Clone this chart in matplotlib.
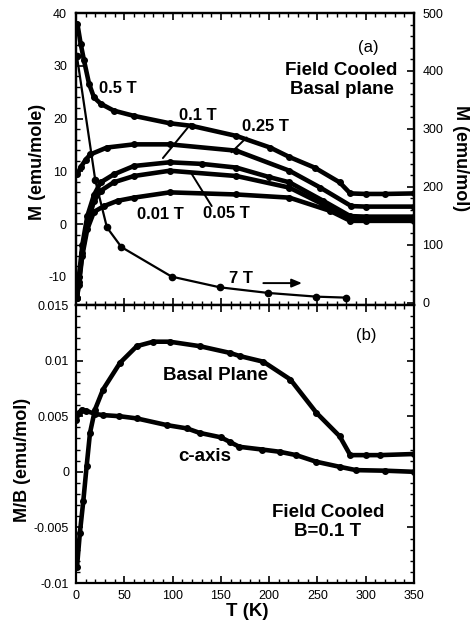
import matplotlib
matplotlib.use("Agg")
import matplotlib.pyplot as plt
from matplotlib.ticker import MultipleLocator, FuncFormatter

plt.rcParams['font.family'] = ['Liberation Sans', 'DejaVu Sans']
plt.rcParams['axes.unicode_minus'] = False

# ---------------- data: panel (a), M in emu/mole (left axis) ----------------
T_05 = [1.4, 4.8, 8.3, 13.5, 18.6, 25.6, 39, 60, 97, 120, 166, 201, 221, 247, 273, 284, 300, 320, 350]
M_05 = [38, 34.2, 31, 26.6, 24, 22.8, 21.5, 20.5, 19.1, 18.6, 16.7, 14.5, 12.7, 10.7, 7.9, 5.8, 5.7, 5.7, 5.8]

T_025 = [1.4, 5, 10, 15, 32, 60, 97, 166, 221, 253, 285, 300, 350]
M_025 = [9.4, 10.8, 12.2, 13.2, 14.5, 15.1, 15.1, 13.9, 10.1, 6.9, 3.4, 3.3, 3.3]

T_01 = [1, 3, 6.5, 11.7, 18.6, 25.6, 39, 60, 97, 130, 166, 200, 221, 256, 284, 300, 350]
M_01 = [-14, -10, -4, 1.5, 5.5, 7.9, 9.4, 11.0, 11.7, 11.4, 10.7, 8.9, 7.9, 4.4, 1.5, 1.4, 1.4]

T_005 = [1, 3, 6.5, 11.7, 18.6, 25.6, 39, 60, 97, 166, 221, 256, 284, 300, 350]
M_005 = [-14, -11, -5.5, 0, 4.3, 6.3, 7.9, 9.1, 10.1, 9.1, 6.9, 3.7, 0.9, 0.9, 0.9]

T_001 = [1, 3, 6.5, 11.7, 18.6, 29, 43, 60, 97, 166, 221, 263, 284, 300, 350]
M_001 = [-14, -11.5, -6, -1, 2.3, 3.4, 4.4, 5.0, 6.0, 5.6, 5.0, 2.5, 0.6, 0.6, 0.6]

# 7 T, right axis (emu/mol)
T_7 = [1, 20, 32, 47, 99, 149, 199, 249, 280]
M_7 = [425, 211, 130, 96, 45, 26.5, 16.8, 10.4, 8.7]

# ---------------- data: panel (b), M/B ----------------
T_basal = [1, 4, 7.6, 11, 14.5, 19.7, 28, 45.6, 63, 80, 97, 128, 159, 170, 194, 222, 249, 273, 284, 300, 315, 350]
MB_basal = [-0.0086, -0.0055, -0.0026, 0.0005, 0.0035, 0.0056, 0.0074, 0.0098, 0.0113, 0.0117, 0.0117,
            0.0113, 0.0107, 0.0104, 0.0099, 0.0083, 0.0053, 0.0032, 0.0015, 0.0015, 0.0015, 0.0016]

T_c = [0.5, 3, 6, 10, 20, 28, 45, 63, 94, 115, 128, 150, 159, 169, 193, 211, 228, 249, 273, 290, 320, 350]
MB_c = [0.0047, 0.0053, 0.0056, 0.0055, 0.0052, 0.0051, 0.0050, 0.0048, 0.0042, 0.0039, 0.0035, 0.0031,
        0.0027, 0.00225, 0.0020, 0.0018, 0.0015, 0.0009, 0.00045, 0.00015, 0.0001, 0.0]

# tick labels
left_a_ticks = [-10, 0, 10, 20, 30, 40]
right_a_ticks = [0, 100, 200, 300, 400, 500]
left_b_ticks = [-0.01, -0.005, 0, 0.005, 0.01, 0.015]
x_ticks = [0, 50, 100, 150, 200, 250, 300, 350]

W, H = 471, 626
fig = plt.figure(figsize=(W / 100, H / 100), dpi=100)
L, R = 76, 414
ax1 = fig.add_axes([L / W, 1 - 305 / H, (R - L) / W, (305 - 13) / H])
ax2 = fig.add_axes([L / W, 1 - 583 / H, (R - L) / W, (583 - 305) / H])
ax1r = ax1.twinx()

lw_c = 3.3
ms_c = 4
for T, M in [(T_05, M_05), (T_025, M_025), (T_01, M_01), (T_005, M_005), (T_001, M_001)]:
    ax1.plot(T, M, color='black', lw=lw_c, marker='o', ms=ms_c, solid_joinstyle='round', solid_capstyle='round')
ax1r.plot(T_7, M_7, color='black', lw=1.6, marker='o', ms=4.5)

ax2.plot(T_basal, MB_basal, color='black', lw=lw_c, marker='o', ms=ms_c, solid_joinstyle='round')
ax2.plot(T_c, MB_c, color='black', lw=lw_c, marker='o', ms=ms_c, solid_joinstyle='round')

ax1.set_xlim(0, 350)
ax2.set_xlim(0, 350)
ax1.set_ylim(-15.35, 40)
ax1r.set_ylim(-4, 500)
ax2.set_ylim(-0.01, 0.015)

tick_kw = dict(direction='in', width=1.2, labelsize=9, colors='black')
for ax in (ax1, ax2, ax1r):
    for s in ax.spines.values():
        s.set_linewidth(1.6)

ax1.set_yticks(left_a_ticks)
ax1.yaxis.set_minor_locator(MultipleLocator(2))
ax1.set_xticks(x_ticks)
ax1.xaxis.set_minor_locator(MultipleLocator(10))
ax1.tick_params(which='major', length=5, top=True, bottom=True, left=True, right=False,
                labelbottom=False, pad=6.5, **tick_kw)
ax1.tick_params(which='minor', length=2.8, top=True, bottom=True, left=True, right=False,
                direction='in', width=1.0)

ax1r.set_yticks(right_a_ticks)
ax1r.yaxis.set_minor_locator(MultipleLocator(20))
ax1r.tick_params(which='major', length=5, right=True, left=False, pad=6, **tick_kw)
ax1r.tick_params(which='minor', length=2.8, right=True, left=False, direction='in', width=1.0)

ax2.set_yticks(left_b_ticks)
ax2.yaxis.set_minor_locator(MultipleLocator(0.001))
ax2.yaxis.set_major_formatter(FuncFormatter(lambda v, p: '%g' % round(v, 4)))
ax2.set_xticks(x_ticks)
ax2.xaxis.set_minor_locator(MultipleLocator(10))
ax2.tick_params(which='major', length=5, top=True, bottom=True, left=True, right=True,
                pad=5, **tick_kw)
ax2.tick_params(which='minor', length=2.8, top=True, bottom=True, left=True, right=True,
                direction='in', width=1.0)

# axis labels
fig.text(37 / W, 1 - 162 / H, 'M (emu/mole)', rotation=90, ha='center', va='center',
         fontsize=13, fontweight='bold')
fig.text(461 / W, 1 - 158 / H, 'M (emu/mol)', rotation=270, ha='center', va='center',
         fontsize=13, fontweight='bold')
fig.text(23 / W, 1 - 460 / H, 'M/B (emu/mol)', rotation=90, ha='center', va='center',
         fontsize=13, fontweight='bold')
fig.text(247 / W, 1 - 612 / H, 'T (K)', ha='center', va='center', fontsize=13.5, fontweight='bold')

# panel (a) annotations
lab = dict(fontsize=12, fontweight='bold', ha='center', va='center')
ax1.text(43.5, 25.7, '0.5 T', **lab)
ax1.text(125.8, 20.6, '0.1 T', **lab)
ax1.text(195.7, 18.4, '0.25 T', **lab)
ax1.text(87, 1.8, '0.01 T', **lab)
ax1.text(155.8, 2.0, '0.05 T', **lab)
ax1.text(171, -10.4, '7 T', **lab)
line = dict(arrowstyle='-', lw=1.4, color='black', shrinkA=0, shrinkB=0)
ax1.annotate('', xy=(90, 12.5), xytext=(119, 19.0), arrowprops=line)
ax1.annotate('', xy=(161, 13.6), xytext=(176.7, 16.4), arrowprops=line)
ax1.annotate('', xy=(119.8, 9.5), xytext=(140.5, 3.4), arrowprops=line)
ax1.annotate('', xy=(234, -11.2), xytext=(194, -11.2),
             arrowprops=dict(arrowstyle='-|>,head_length=0.6,head_width=0.25', lw=1.4,
                             color='black', shrinkA=0, shrinkB=0))
ax1.text(303, 33.5, '(a)', fontsize=12, ha='center', va='center')
ax1.text(275, 27.3, 'Field Cooled\nBasal plane', fontsize=13.5, fontweight='bold',
         ha='center', va='center', linespacing=1.2)

# panel (b) annotations
ax2.text(301, 0.0123, '(b)', fontsize=12, ha='center', va='center')
ax2.text(144.4, 0.00867, 'Basal Plane', fontsize=13.5, fontweight='bold', ha='center', va='center')
ax2.text(133.5, 0.00137, 'c-axis', fontsize=13.5, fontweight='bold', ha='center', va='center')
ax2.text(261, -0.0045, 'Field Cooled\nB=0.1 T', fontsize=13.5, fontweight='bold',
         ha='center', va='center', linespacing=1.2)

fig.savefig('out.png', dpi=100)
